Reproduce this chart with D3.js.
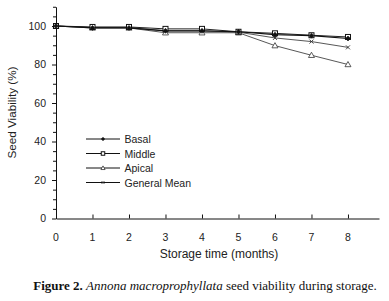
<!DOCTYPE html>
<html><head><meta charset="utf-8">
<script src="https://cdn.jsdelivr.net/npm/d3@7"></script>
<style>body{margin:0;background:#fff}svg{display:block}</style>
</head><body>
<svg id="c" width="389" height="301"></svg>
<script>
const months = [0,1,2,3,4,5,6,7,8];
const basal  = [100,99,99,97.5,97.5,97,95.5,95,93.5];
const middle = [100,99.5,99.5,98.5,98.5,97,96.2,95.2,94.3];
const apical = [100,99,99,96.5,96.5,96.5,89.8,84.8,80];
const gmean  = [100,99.2,99.2,97.5,97.5,96.8,93.8,91.9,88.9];
const seriesNames = ["Basal","Middle","Apical","General Mean"];
const yTicks = [0,20,40,60,80,100];
const xTicks = [0,1,2,3,4,5,6,7,8];

const svg = d3.select("#c");
const x = d3.scaleLinear().domain([0,8.85]).range([56,379]);
const y = d3.scaleLinear().domain([0,110]).range([218.5,6.75]);

const font = "Arial, 'Liberation Sans', sans-serif";

// y axis
svg.append("g").attr("transform","translate(56,0)")
  .call(d3.axisLeft(y).tickValues(yTicks).tickSize(4).tickSizeOuter(0).tickPadding(6));
svg.append("g").attr("transform","translate(56,0)")
  .call(d3.axisLeft(y).tickValues(d3.range(0,111,5).filter(v=>v%20!==0)).tickSize(3).tickSizeOuter(0).tickFormat(""))
  .select(".domain").remove();
// x axis
svg.append("g").attr("transform","translate(0,218.5)")
  .call(d3.axisBottom(x).tickValues(xTicks.filter(v=>v>0)).tickSize(-4).tickSizeOuter(0).tickFormat(""));
svg.append("g").attr("transform","translate(0,218.5)")
  .selectAll("text").data(xTicks).join("text")
  .attr("x",d=>x(d)).attr("y",22).attr("text-anchor","middle")
  .attr("font-family",font).attr("font-size",10.5).attr("fill","#222").text(d=>d);
svg.selectAll(".domain").attr("stroke","#111").attr("stroke-width",1);
svg.selectAll(".tick line").attr("stroke","#111");
svg.selectAll(".tick text").attr("font-family",font).attr("font-size",10.5).attr("fill","#222");

// axis labels
svg.append("text").attr("transform","translate(16,112.5) rotate(-90)")
  .attr("text-anchor","middle").attr("font-family",font).attr("font-size",11.7).attr("fill","#222")
  .text("Seed Viability (%)");
svg.append("text").attr("x",219).attr("y",258).attr("text-anchor","middle")
  .attr("font-family",font).attr("font-size",12).attr("fill","#222").text("Storage time (months)");

// caption
const cap = svg.append("text").attr("x",205).attr("y",290).attr("text-anchor","middle")
  .attr("font-family","'Liberation Serif','Times New Roman',serif").attr("font-size",13).attr("fill","#111");
cap.append("tspan").attr("font-weight","bold").text("Figure 2. ");
cap.append("tspan").attr("font-style","italic").text("Annona macroprophyllata");
cap.append("tspan").text(" seed viability during storage.");

// markers
function marker(g, type, cx, cy, s){
  s = s || 1;
  if(type==="diamond"){
    const r=2.5*s;
    g.append("path").attr("d",`M${cx},${cy-r}L${cx+r},${cy}L${cx},${cy+r}L${cx-r},${cy}Z`).attr("fill","#111").attr("stroke","#111").attr("stroke-width",0.6);
  } else if(type==="square"){
    const r=2.5*s;
    g.append("rect").attr("x",cx-r).attr("y",cy-r).attr("width",2*r).attr("height",2*r).attr("fill","#fff").attr("stroke","#111").attr("stroke-width",1);
  } else if(type==="triangle"){
    g.append("path").attr("d",`M${cx},${cy-3*s}L${cx+3*s},${cy+2.2*s}L${cx-3*s},${cy+2.2*s}Z`).attr("fill","#fff").attr("stroke","#333").attr("stroke-width",0.8);
  } else {
    const r=2*s;
    g.append("path").attr("d",`M${cx-r},${cy-r}L${cx+r},${cy+r}M${cx-r},${cy+r}L${cx+r},${cy-r}`).attr("stroke","#333").attr("stroke-width",0.9);
  }
}
const series = [
  {name:seriesNames[0], vals:basal, m:"diamond", c:"#111", w:1.2},
  {name:seriesNames[1], vals:middle, m:"square", c:"#222", w:1},
  {name:seriesNames[2], vals:apical, m:"triangle", c:"#444", w:0.9},
  {name:seriesNames[3], vals:gmean, m:"x", c:"#444", w:0.9}
];
const line = d3.line().x((d,i)=>x(months[i])).y(d=>y(d));
const order = [2,3,1,0];
order.forEach(k=>{
  const s = series[k];
  svg.append("path").datum(s.vals).attr("d",line).attr("fill","none").attr("stroke",s.c).attr("stroke-width",s.w);
});
order.forEach(k=>{
  const s = series[k];
  const g = svg.append("g");
  s.vals.forEach((v,i)=>marker(g,s.m,x(months[i]),y(v)));
});

// legend
const legY = [139,153.5,168,182.5];
series.forEach((s,i)=>{
  const g = svg.append("g");
  g.append("line").attr("x1",86).attr("x2",120).attr("y1",legY[i]).attr("y2",legY[i]).attr("stroke","#111").attr("stroke-width",1);
  marker(g,s.m,103,legY[i],0.7);
  g.append("text").attr("x",124.5).attr("y",legY[i]+4).attr("font-family",font).attr("font-size",10.5).attr("fill","#222").text(s.name);
});
</script>
</body></html>
